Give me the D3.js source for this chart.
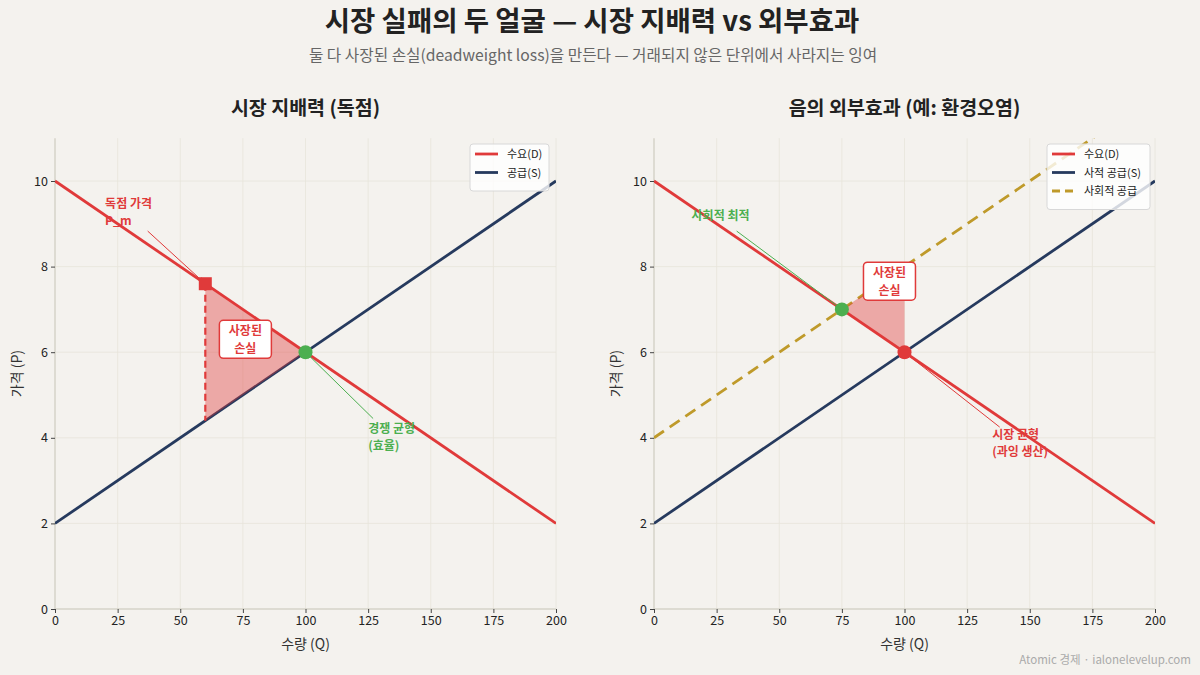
<!DOCTYPE html>
<html>
<head>
<meta charset="utf-8">
<script src="https://cdn.jsdelivr.net/npm/d3@7"></script>
<style>
  body { margin: 0; background: #f4f2ee; }
  svg { font-family: "Noto Sans CJK KR", "Noto Sans", sans-serif; }
</style>
</head>
<body>
<div id="chart"></div>
<script>
// ---- data ----
const xTicks = [0, 25, 50, 75, 100, 125, 150, 175, 200];
const yTicks = [0, 2, 4, 6, 8, 10];

const demandQ = [0, 200], demandP = [10, 2];
const supplyQ = [0, 200], supplyP = [2, 10];
const socialQ = [0, 200], socialP = [4, 12];

// monopoly panel
const monoQ = 60, monoP = 7.6, monoMC = 4.4;
const compQ = 100, compP = 6;
const dwlMonoQ = [60, 100, 60];
const dwlMonoP = [7.6, 6, 4.4];

// externality panel
const optQ = 75, optP = 7;
const mktQ = 100, mktP = 6;
const dwlExtQ = [75, 100, 100];
const dwlExtP = [7, 8, 6];

const C = {
  bg: "#f4f2ee",
  demand: "#e03a3a",
  supply: "#263a5e",
  social: "#bf9a2a",
  green: "#4caf50",
  grid: "#e7e4da",
  spine: "#d6d3c8",
  text: "#222"
};

const W = 1200, H = 675;
const LH = 17.5; // line height for two-line labels

const svg = d3.select("#chart").append("svg")
  .attr("width", W).attr("height", H);

svg.append("rect").attr("width", W).attr("height", H).attr("fill", C.bg);

const defs = svg.append("defs");
function marker(id, color) {
  defs.append("marker")
    .attr("id", id)
    .attr("viewBox", "0 0 10 10")
    .attr("refX", 10).attr("refY", 5)
    .attr("markerWidth", 7).attr("markerHeight", 7)
    .attr("orient", "auto")
    .append("path")
    .attr("d", "M0,1.5 L10,5 L0,8.5 z")
    .attr("fill", color);
}
marker("arrRed", C.demand);
marker("arrGreen", C.green);

// titles
svg.append("text").attr("x", 592).attr("y", 31)
  .attr("text-anchor", "middle").attr("font-size", 27.5).attr("font-weight", 700)
  .attr("fill", "#222").text("시장 실패의 두 얼굴 — 시장 지배력 vs 외부효과");
svg.append("text").attr("x", 593).attr("y", 61)
  .attr("text-anchor", "middle").attr("font-size", 15.7)
  .attr("fill", "#666").text("둘 다 사장된 손실(deadweight loss)을 만든다 — 거래되지 않은 단위에서 사라지는 잉여");

svg.append("text").attr("x", 1191).attr("y", 664)
  .attr("text-anchor", "end").attr("font-size", 11.5)
  .attr("fill", "#aaa").text("Atomic 경제 · ialonelevelup.com");

function panel(opts) {
  const x = d3.scaleLinear().domain([0, 200]).range([opts.x0, opts.x0 + 501]);
  const y = d3.scaleLinear().domain([0, 11]).range([609, 609 - 11 * 42.8]);
  const g = svg.append("g");
  const clipId = "clip" + opts.x0;
  defs.append("clipPath").attr("id", clipId).append("rect")
    .attr("x", x(0)).attr("y", y(11)).attr("width", x(200) - x(0)).attr("height", y(0) - y(11));

  // grid
  g.append("g").selectAll("line").data(xTicks.slice(1)).join("line")
    .attr("x1", d => x(d)).attr("x2", d => x(d))
    .attr("y1", y(0)).attr("y2", y(11))
    .attr("stroke", C.grid).attr("stroke-width", 0.8);
  g.append("g").selectAll("line").data(yTicks.slice(1)).join("line")
    .attr("x1", x(0)).attr("x2", x(200))
    .attr("y1", d => y(d)).attr("y2", d => y(d))
    .attr("stroke", C.grid).attr("stroke-width", 0.8);

  // axes
  const xa = g.append("g").attr("transform", `translate(0,${y(0)})`)
    .call(d3.axisBottom(x).tickValues(xTicks).tickSize(4).tickPadding(3));
  const ya = g.append("g").attr("transform", `translate(${x(0)},0)`)
    .call(d3.axisLeft(y).tickValues(yTicks).tickSize(4).tickPadding(3));
  [xa, ya].forEach(a => {
    a.select(".domain").attr("stroke", C.spine).attr("stroke-width", 1.5);
    a.selectAll(".tick line").attr("stroke", "#444");
    a.selectAll(".tick text").attr("font-size", 12.5).attr("fill", C.text)
      .attr("font-family", "Noto Sans CJK KR");
  });
  ya.select(".domain").attr("d", `M0,${y(11)}V${y(0)}`);
  xa.select(".domain").attr("d", `M0,0H${x(200) - x(0)}`).attr("transform", `translate(${x(0)},0)`);

  g.append("text").attr("x", (x(0) + x(200)) / 2).attr("y", 649)
    .attr("text-anchor", "middle").attr("font-size", 14).attr("fill", "#333").text("수량 (Q)");
  g.append("text").attr("transform", `translate(${x(0) - 33},${y(5.5)}) rotate(-90)`)
    .attr("text-anchor", "middle").attr("font-size", 14).attr("fill", "#333").text("가격 (P)");

  g.append("text").attr("x", (x(0) + x(200)) / 2).attr("y", 115)
    .attr("text-anchor", "middle").attr("font-size", 19.5).attr("font-weight", 700)
    .attr("fill", "#222").text(opts.title);

  const plot = g.append("g").attr("clip-path", `url(#${clipId})`);
  const line = d3.line().x(d => x(d[0])).y(d => y(d[1]));
  const pts = (qs, ps) => qs.map((q, i) => [q, ps[i]]);

  opts.lines.forEach(l => {
    plot.append("path").attr("d", line(pts(l.q, l.p)))
      .attr("fill", "none").attr("stroke", l.color).attr("stroke-width", 2.8)
      .attr("stroke-dasharray", l.dash || null);
  });

  // dead-weight loss
  plot.append("path").attr("d", line(pts(opts.dwlQ, opts.dwlP)) + "Z")
    .attr("fill", C.demand).attr("fill-opacity", 0.4);

  if (opts.extra) opts.extra(plot, x, y);

  // annotations
  opts.notes.forEach(n => {
    g.append("line")
      .attr("x1", x(n.fromQ)).attr("y1", y(n.fromP))
      .attr("x2", x(n.toQ)).attr("y2", y(n.toP))
      .attr("stroke", n.color).attr("stroke-width", 1)
      .attr("marker-end", `url(#${n.marker})`);
    n.lines.forEach((s, i) => g.append("text")
      .attr("x", x(n.q)).attr("y", y(n.p) + i * LH)
      .attr("font-size", 12).attr("font-weight", 700).attr("fill", n.color).text(s));
  });

  // points
  opts.points.forEach(pt => {
    if (pt.shape === "square") {
      g.append("rect").attr("x", x(pt.q) - 6.5).attr("y", y(pt.p) - 6.5)
        .attr("width", 13).attr("height", 13).attr("fill", pt.color);
    } else {
      g.append("circle").attr("cx", x(pt.q)).attr("cy", y(pt.p)).attr("r", 7).attr("fill", pt.color);
    }
  });

  // DWL label box
  const bx = x(opts.boxQ), by = y(opts.boxP);
  g.append("rect").attr("x", bx - 26).attr("y", by - 19).attr("width", 52).attr("height", 38)
    .attr("rx", 4).attr("fill", "#fff").attr("stroke", C.demand).attr("stroke-width", 1.5);
  ["사장된", "손실"].forEach((s, i) => g.append("text")
    .attr("x", bx).attr("y", by - 4 + i * LH).attr("text-anchor", "middle")
    .attr("font-size", 12).attr("font-weight", 700).attr("fill", C.demand).text(s));

  // legend
  const lg = g.append("g").attr("transform", `translate(${opts.legX},144)`);
  lg.append("rect").attr("width", opts.legW).attr("height", 10 + opts.lines.length * 18.5)
    .attr("rx", 3).attr("fill", "#fff").attr("fill-opacity", 0.8)
    .attr("stroke", "#d8d8d8");
  opts.lines.forEach((l, i) => {
    const yy = 10 + i * 18.5;
    lg.append("line").attr("x1", 5).attr("x2", 28).attr("y1", yy).attr("y2", yy)
      .attr("stroke", l.color).attr("stroke-width", 2.8).attr("stroke-dasharray", l.dash ? "8,5" : null);
    lg.append("text").attr("x", 37).attr("y", yy + 4).attr("font-size", 11).attr("fill", "#222").text(l.name);
  });
}

panel({
  x0: 55,
  title: "시장 지배력 (독점)",
  lines: [
    { name: "수요(D)", q: demandQ, p: demandP, color: C.demand },
    { name: "공급(S)", q: supplyQ, p: supplyP, color: C.supply }
  ],
  dwlQ: dwlMonoQ, dwlP: dwlMonoP,
  extra: (plot, x, y) => {
    plot.append("line").attr("x1", x(monoQ)).attr("x2", x(monoQ))
      .attr("y1", y(monoP)).attr("y2", y(monoMC))
      .attr("stroke", C.demand).attr("stroke-width", 2.2).attr("stroke-dasharray", "7,4");
  },
  points: [
    { q: monoQ, p: monoP, color: C.demand, shape: "square" },
    { q: compQ, p: compP, color: C.green }
  ],
  notes: [
    { lines: ["독점 가격", "P_m"], q: 20, p: 9.38, color: C.demand, marker: "arrRed",
      fromQ: 37, fromP: 8.83, toQ: monoQ, toP: monoP },
    { lines: ["경쟁 균형", "(효율)"], q: 125, p: 4.12, color: C.green, marker: "arrGreen",
      fromQ: 127, fromP: 4.45, toQ: compQ, toP: compP }
  ],
  boxQ: 76, boxP: 6.3,
  legX: 470, legW: 79
});

panel({
  x0: 654,
  title: "음의 외부효과 (예: 환경오염)",
  lines: [
    { name: "수요(D)", q: demandQ, p: demandP, color: C.demand },
    { name: "사적 공급(S)", q: supplyQ, p: supplyP, color: C.supply },
    { name: "사회적 공급", q: socialQ, p: socialP, color: C.social, dash: "12,7" }
  ],
  dwlQ: dwlExtQ, dwlP: dwlExtP,
  points: [
    { q: optQ, p: optP, color: C.green },
    { q: mktQ, p: mktP, color: C.demand }
  ],
  notes: [
    { lines: ["사회적 최적"], q: 15, p: 9.1, color: C.green, marker: "arrGreen",
      fromQ: 33, fromP: 8.83, toQ: optQ, toP: optP },
    { lines: ["시장 균형", "(과잉 생산)"], q: 135, p: 3.98, color: C.demand, marker: "arrRed",
      fromQ: 138, fromP: 4.25, toQ: mktQ, toP: mktP }
  ],
  boxQ: 94, boxP: 7.66,
  legX: 1047, legW: 103
});
</script>
</body>
</html>
